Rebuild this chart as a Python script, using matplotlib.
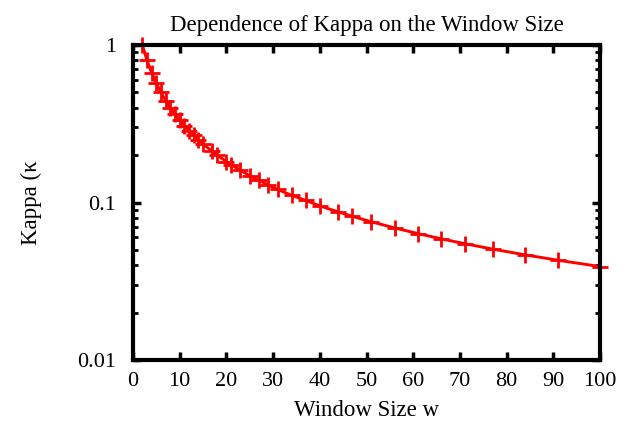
import matplotlib
matplotlib.use("Agg")
import matplotlib.pyplot as plt
from matplotlib.ticker import LogLocator, NullFormatter, FixedLocator

window = [2, 3, 4, 5, 6, 7, 8, 9, 10, 11, 12, 13, 14, 15, 17, 18, 20, 21, 23, 25,
          27, 29, 31, 34, 37, 40, 44, 47, 51, 56, 61, 66, 71, 77, 84, 91, 100]
kappa = [1.000, 0.800, 0.667, 0.571, 0.500, 0.444, 0.400, 0.364, 0.333, 0.308,
         0.286, 0.267, 0.250, 0.235, 0.211, 0.200, 0.182, 0.174, 0.160, 0.148,
         0.138, 0.129, 0.121, 0.111, 0.103, 0.0952, 0.0870, 0.0816, 0.0755, 0.0690,
         0.0635, 0.0588, 0.0548, 0.0506, 0.0465, 0.0430, 0.0392]
xticks = [0, 10, 20, 30, 40, 50, 60, 70, 80, 90, 100]
yticks = [0.01, 0.1, 1]
ytick_labels = ["0.01", "0.1", "1"]

plt.rcParams['font.family'] = ['Liberation Serif', 'DejaVu Serif']

fig = plt.figure(figsize=(6.39, 4.33), dpi=100)
ax = fig.add_axes([133/639, 1-360/433, (600-133)/639, (360-45)/433])

ax.plot(window, kappa, color='#ff0000', lw=2.1, marker='+', ms=11, mew=2.0,
        clip_on=False, zorder=2)

ax.set_xlim(0, 100)
ax.set_yscale('log')
ax.set_ylim(0.01, 1)
ax.xaxis.set_major_locator(FixedLocator(xticks))
ax.set_xticklabels([str(t) for t in xticks])
ax.yaxis.set_major_locator(FixedLocator(yticks))
ax.set_yticklabels(ytick_labels)
ax.yaxis.set_minor_locator(LogLocator(base=10, subs=range(2, 10)))
ax.yaxis.set_minor_formatter(NullFormatter())

for s in ax.spines.values():
    s.set_linewidth(3)
    s.set_zorder(5)

ax.tick_params(axis='both', which='major', direction='in', length=6, width=2.5,
               top=True, right=True, labelsize=16, pad=9, color='black')
ax.tick_params(axis='y', which='minor', direction='in', length=3.5, width=2,
               left=True, right=True)
ax.tick_params(axis='y', which='major', pad=12)

ax.set_title("Dependence of Kappa on the Window Size", fontsize=16.5, pad=10)
ax.set_xlabel("Window Size w", fontsize=16.5, labelpad=6)
fig.text(31/639, 1-203/433, "Kappa (κ", fontsize=16.5, rotation=90,
         ha='center', va='center')

fig.savefig("out.png", dpi=100)
